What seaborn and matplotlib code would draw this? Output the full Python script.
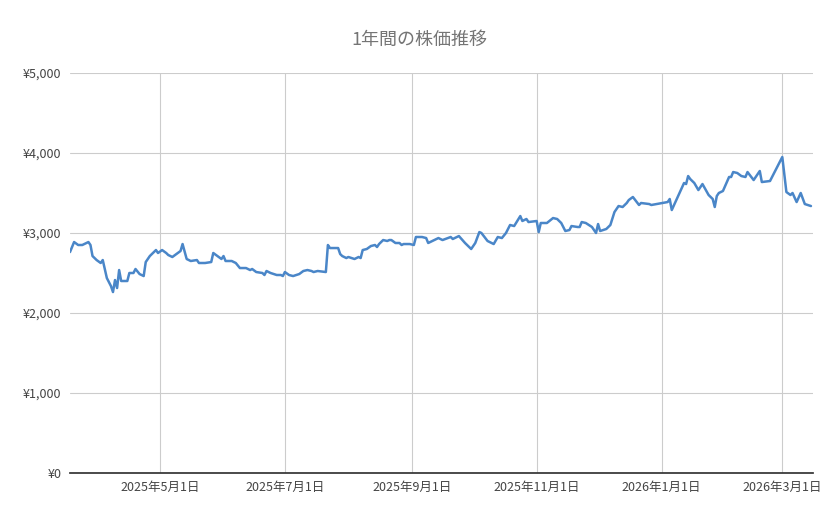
import matplotlib
matplotlib.use("Agg")
import matplotlib.pyplot as plt
import matplotlib.dates as mdates
import seaborn as sns
import pandas as pd

dates = ["2025-03-18","2025-03-20","2025-03-22","2025-03-24","2025-03-27","2025-03-28","2025-03-29","2025-03-31",
"2025-04-02","2025-04-03","2025-04-05","2025-04-07","2025-04-08","2025-04-09","2025-04-10","2025-04-11","2025-04-12",
"2025-04-15","2025-04-16","2025-04-18","2025-04-19","2025-04-21","2025-04-23","2025-04-24","2025-04-26","2025-04-29",
"2025-04-30","2025-05-02","2025-05-04","2025-05-05","2025-05-07","2025-05-09","2025-05-11","2025-05-12","2025-05-14",
"2025-05-16","2025-05-19","2025-05-20","2025-05-23","2025-05-26","2025-05-27","2025-05-29","2025-05-31","2025-06-01",
"2025-06-02","2025-06-05","2025-06-07","2025-06-09","2025-06-11","2025-06-12","2025-06-14","2025-06-15","2025-06-17",
"2025-06-20","2025-06-21","2025-06-22","2025-06-24","2025-06-27","2025-06-29","2025-06-30","2025-07-01","2025-07-03",
"2025-07-05","2025-07-08","2025-07-10","2025-07-12","2025-07-14","2025-07-15","2025-07-17","2025-07-21","2025-07-22",
"2025-07-23","2025-07-26","2025-07-27","2025-07-28","2025-07-29","2025-07-31","2025-08-01","2025-08-04","2025-08-05",
"2025-08-06","2025-08-07","2025-08-08","2025-08-10","2025-08-12","2025-08-14","2025-08-15","2025-08-16","2025-08-17",
"2025-08-18","2025-08-20","2025-08-21","2025-08-22","2025-08-24","2025-08-26","2025-08-27","2025-08-28","2025-08-31",
"2025-09-02","2025-09-03","2025-09-06","2025-09-08","2025-09-09","2025-09-14","2025-09-16","2025-09-20","2025-09-21",
"2025-09-24","2025-09-27","2025-09-30","2025-10-02","2025-10-04","2025-10-05","2025-10-08","2025-10-11","2025-10-13",
"2025-10-15","2025-10-17","2025-10-19","2025-10-21","2025-10-24","2025-10-25","2025-10-27","2025-10-28","2025-11-01",
"2025-11-02","2025-11-03","2025-11-06","2025-11-09","2025-11-11","2025-11-13","2025-11-15","2025-11-17","2025-11-18",
"2025-11-21","2025-11-22","2025-11-23","2025-11-25","2025-11-28","2025-11-30","2025-12-01","2025-12-02","2025-12-05",
"2025-12-07","2025-12-09","2025-12-11","2025-12-13","2025-12-15","2025-12-16","2025-12-18","2025-12-21","2025-12-22",
"2025-12-26","2025-12-27","2026-01-04","2026-01-05","2026-01-06","2026-01-12","2026-01-13","2026-01-14","2026-01-15",
"2026-01-17","2026-01-19","2026-01-21","2026-01-24","2026-01-26","2026-01-27","2026-01-28","2026-01-29","2026-01-31",
"2026-02-03","2026-02-04","2026-02-05","2026-02-07","2026-02-09","2026-02-11","2026-02-12","2026-02-15","2026-02-18",
"2026-02-19","2026-02-23","2026-03-01","2026-03-03","2026-03-05","2026-03-06","2026-03-08","2026-03-10","2026-03-12",
"2026-03-15"]
prices = [2762,2887,2850,2850,2887,2850,2712,2662,
2625,2662,2437,2337,2262,2412,2312,2537,2400,
2400,2500,2500,2550,2487,2462,2637,2712,2787,
2750,2787,2750,2725,2700,2737,2775,2862,2675,
2650,2662,2625,2625,2637,2750,2712,2675,2712,
2650,2650,2625,2562,2562,2562,2537,2550,2512,
2500,2475,2525,2500,2475,2475,2462,2512,2475,
2462,2487,2525,2537,2525,2512,2525,2512,2850,
2812,2812,2812,2737,2712,2687,2700,2675,2687,
2700,2687,2787,2800,2837,2850,2825,2862,2887,
2912,2900,2912,2912,2875,2875,2850,2862,2862,
2850,2950,2950,2937,2875,2937,2912,2950,2925,
2962,2875,2800,2875,3012,3000,2900,2862,2950,
2937,3000,3100,3087,3212,3150,3175,3137,3150,
3012,3125,3125,3187,3175,3125,3025,3037,3087,
3075,3075,3137,3125,3075,3000,3112,3025,3050,
3100,3262,3337,3325,3375,3412,3450,3350,3375,
3362,3350,3387,3425,3287,3625,3612,3712,3675,
3625,3537,3612,3475,3425,3325,3462,3500,3525,
3700,3700,3762,3750,3712,3700,3762,3662,3775,
3637,3650,3950,3512,3475,3500,3387,3500,3362,
3337]
tick_dates = ["2025-05-01","2025-07-01","2025-09-01","2025-11-01","2026-01-01","2026-03-01"]
tick_labels = ["2025年5月1日","2025年7月1日","2025年9月1日","2025年11月1日","2026年1月1日","2026年3月1日"]
yticks = [0,1000,2000,3000,4000,5000]
ytick_labels = ["¥0","¥1,000","¥2,000","¥3,000","¥4,000","¥5,000"]

df = pd.DataFrame({"date": pd.to_datetime(dates), "price": prices})

sns.set_theme(style="white")
plt.rcParams['font.family'] = ['Noto Sans CJK JP', 'DejaVu Sans']

fig = plt.figure(figsize=(8.39, 5.19), dpi=100)
ax = fig.add_axes([70/839, 1-473/519, 743/839, 400/519])
sns.lineplot(data=df, x="date", y="price", ax=ax, color="#4a86c8", linewidth=1.8)
ax.set_xlim(pd.Timestamp("2025-03-18"), pd.Timestamp("2026-03-16"))
ax.set_ylim(0, 5000)
ax.set_xticks(pd.to_datetime(tick_dates))
ax.set_xticklabels(tick_labels)
ax.set_yticks(yticks)
ax.set_yticklabels(ytick_labels)
ax.grid(True, color="#cccccc", linewidth=0.8)
ax.set_axisbelow(True)
for s in ["top", "right", "left"]:
    ax.spines[s].set_visible(False)
ax.spines["bottom"].set_color("#333333")
ax.tick_params(axis="both", length=0, labelsize=9, colors="#444444", pad=6)
ax.set_xlabel("")
ax.set_ylabel("")
fig.text(419/839, 1-40/519, "1年間の株価推移", ha="center", va="center", fontsize=13, color="#757575")
fig.savefig("out.png", dpi=100)
